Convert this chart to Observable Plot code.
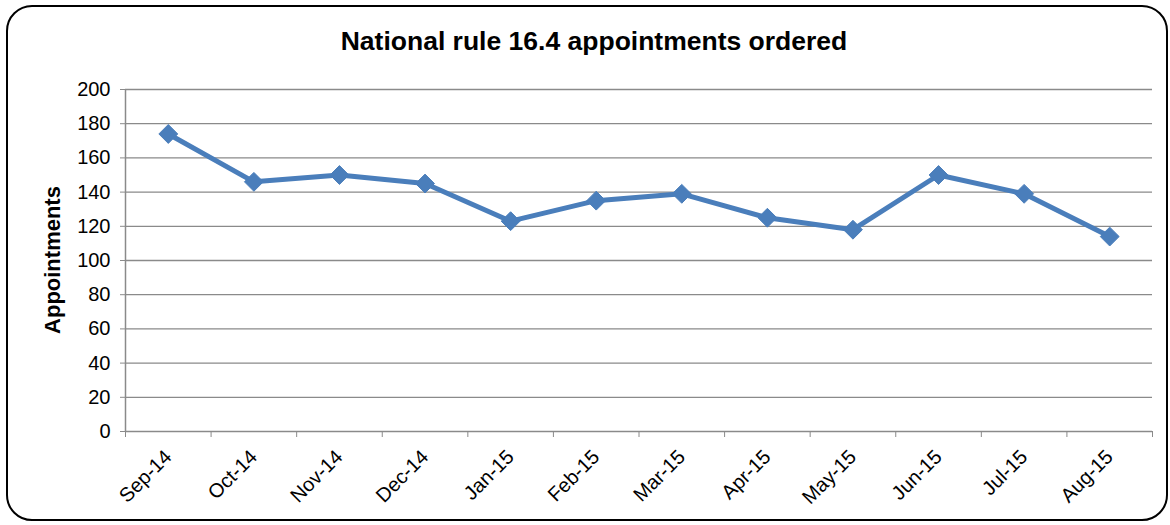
<!DOCTYPE html>
<html><head><meta charset="utf-8">
<script src="https://cdn.jsdelivr.net/npm/d3@7"></script>
<script src="https://cdn.jsdelivr.net/npm/@observablehq/plot@0.6"></script>
<style>
html,body{margin:0;padding:0;background:#fff;}
body{width:1170px;height:525px;position:relative;overflow:hidden;font-family:"Liberation Sans",Arial,sans-serif;}
#frame{position:absolute;left:6px;top:5px;width:1158px;height:512px;border:2px solid #000;border-radius:26px;}
#title{position:absolute;left:0;width:1188px;top:26px;text-align:center;font-weight:bold;font-size:26.5px;color:#000;}
#ylab{position:absolute;left:53px;top:260px;transform:translate(-50%,-50%) rotate(-90deg);font-weight:bold;font-size:22px;white-space:nowrap;}
#chart{position:absolute;left:0;top:0;}
</style></head>
<body>
<div id="frame"></div>
<div id="chart"></div>
<div id="title">National rule 16.4 appointments ordered</div>
<div id="ylab">Appointments</div>
<script>
const months = ["Sep-14","Oct-14","Nov-14","Dec-14","Jan-15","Feb-15","Mar-15","Apr-15","May-15","Jun-15","Jul-15","Aug-15"];
const appointments = [174,146,150,145,123,135,139,125,118,150,139,114];
const yTicks = [0,20,40,60,80,100,120,140,160,180,200];

const data = months.map((m,i)=>({i, month:m, value:appointments[i]}));
const boundaries = d3.range(months.length+1).map(k=>k-0.5);
const gridColor = "#8a8a8a";

const chart = Plot.plot({
  width:1170, height:525,
  marginLeft:125, marginRight:18, marginTop:89, marginBottom:94,
  style:{fontFamily:"'Liberation Sans', Arial, sans-serif", fontSize:"20px", color:"#000", background:"transparent"},
  x:{type:"linear", domain:[-0.5, months.length-0.5]},
  y:{domain:[0,200]},
  marks:[
    Plot.ruleY(yTicks.filter(t=>t>0), {stroke:gridColor, strokeWidth:1.3}),
    Plot.ruleX([-0.5], {stroke:gridColor, strokeWidth:1.5}),
    Plot.ruleY([0], {stroke:gridColor, strokeWidth:1.5}),
    Plot.axisY({ticks:yTicks, tickSize:5, tickPadding:10, stroke:gridColor, label:null, fontSize:20}),
    Plot.axisX({ticks:boundaries, tickSize:6, tickFormat:()=>"", stroke:gridColor, label:null}),
    Plot.axisX({ticks:d3.range(months.length), tickSize:0, tickFormat:i=>months[i], tickRotate:-45, tickPadding:22, label:null, fontSize:20}),
    Plot.line(data, {x:"i", y:"value", stroke:"#4a7ebb", strokeWidth:5}),
    Plot.dot(data, {x:"i", y:"value", symbol:"diamond2", r:8.5, fill:"#4a7ebb", stroke:"#4a7ebb", strokeWidth:1})
  ]
});
document.getElementById("chart").appendChild(chart);
</script>
</body></html>
